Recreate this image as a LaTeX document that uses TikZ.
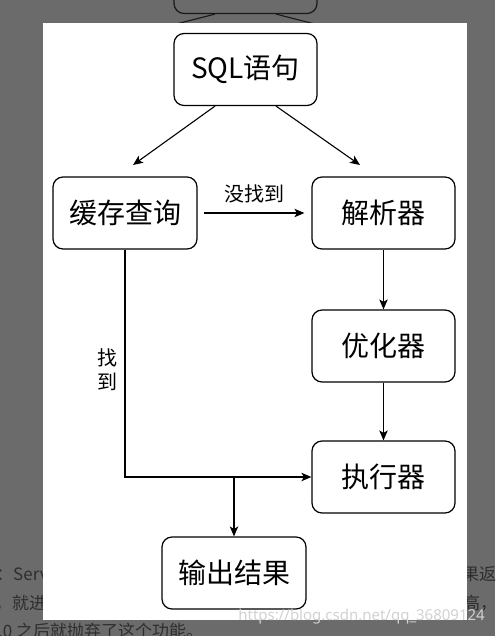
\documentclass[tikz,border=0pt]{standalone}
\usepackage{fontspec}
\newfontfamily\cjk{Noto Sans CJK SC}
\newfontfamily\wmfont{Noto Sans}
\usetikzlibrary{arrows.meta}
\definecolor{bggray}{HTML}{6B6B6B}
\definecolor{ghosttext}{HTML}{2E2E2E}
\definecolor{wmcolor}{HTML}{D2D2D2}
\begin{document}
\begin{tikzpicture}[x=1pt,y=-1pt,
  box/.style={draw=black,line width=1.2pt,rounded corners=10pt,fill=white,
    minimum width=143pt,minimum height=72pt,inner sep=0pt,
    font=\cjk\fontsize{28}{30}\selectfont},
  ghostbox/.style={draw=black!90,line width=1.2pt,rounded corners=10pt,
    minimum width=143pt,minimum height=72pt,inner sep=0pt},
  conn/.style={line width=1.1pt,-{Stealth[length=10pt,width=8.5pt,inset=2.5pt]}},
  ghostconn/.style={line width=1.1pt,draw=black!90},
  lbl/.style={font=\cjk\fontsize{20}{24}\selectfont,inner sep=0pt},
  ghosttxt/.style={font=\cjk\fontsize{17}{20}\selectfont,text=ghosttext,inner sep=0pt,anchor=west},
  wm/.style={font=\wmfont\fontsize{15}{18}\selectfont,text=wmcolor,inner sep=0pt,anchor=east}
]
% screenshot background
\fill[bggray] (0,0) rectangle (495,636);
\useasboundingbox (0,0) rectangle (495,636);

% ghost copy above the panel
\node[ghostbox] (ghost) at (245.5,-22.5) {};
\coordinate (g1) at (133,35);
\coordinate (g2) at (358,35);
\draw[ghostconn] ([xshift=-30.5pt]ghost.south) -- (g1);
\draw[ghostconn] ([xshift=30.5pt]ghost.south) -- (g2);

% page text around the panel
\node[ghosttxt] (t1) at (-4,574) {：Server};
\node[ghosttxt] (t2) at (-5,603) {，就进行};
\node[ghosttxt] (t3) at (-2,631) {.0 之后就抛弃了这个功能。};
\node[ghosttxt] (t4) at (462,574) {果返回};
\node[ghosttxt] (t5) at (463,603) {高，};

% white panel
\fill[white] (43,23) rectangle (467,620);

% nodes
\node[box] (sql) at (245.5,69.5) {SQL语句};
\node[box,minimum width=144pt] (cache) at (125,213) {缓存查询};
\node[box] (parse) at (383.5,213) {解析器};
\node[box] (opt) at (383.5,346) {优化器};
\node[box] (exec) at (383.5,477) {执行器};
\node[box,minimum width=144pt] (out) at (234,573) {输出结果};

% connectors
\coordinate (c1) at (133,165);
\coordinate (c2) at (360,165);
\draw[conn] ([xshift=-30.5pt]sql.south) -- (c1);
\draw[conn] ([xshift=30.5pt]sql.south) -- (c2);
\draw[conn,shorten <=6pt,shorten >=7pt] (cache.east) -- (parse.west)
  node[lbl,midway,above=9pt] (nf) {没找到};
\draw[conn] (parse.south) -- (opt.north);
\draw[conn] (opt.south) -- (exec.north);
\coordinate (corner) at (cache.south |- exec.west);
\draw[conn] (cache.south) -- (corner) -- (exec.west);
\coordinate (j) at (out.north |- exec.west);
\draw[conn] (j) -- (out.north);
\node[lbl,align=center] (found) at (107,370) {找\\到};

% watermark
\node[wm] (wmk) at (485,617) {https://blog.csdn.net/qq\_36809124};
\end{tikzpicture}
\end{document}
